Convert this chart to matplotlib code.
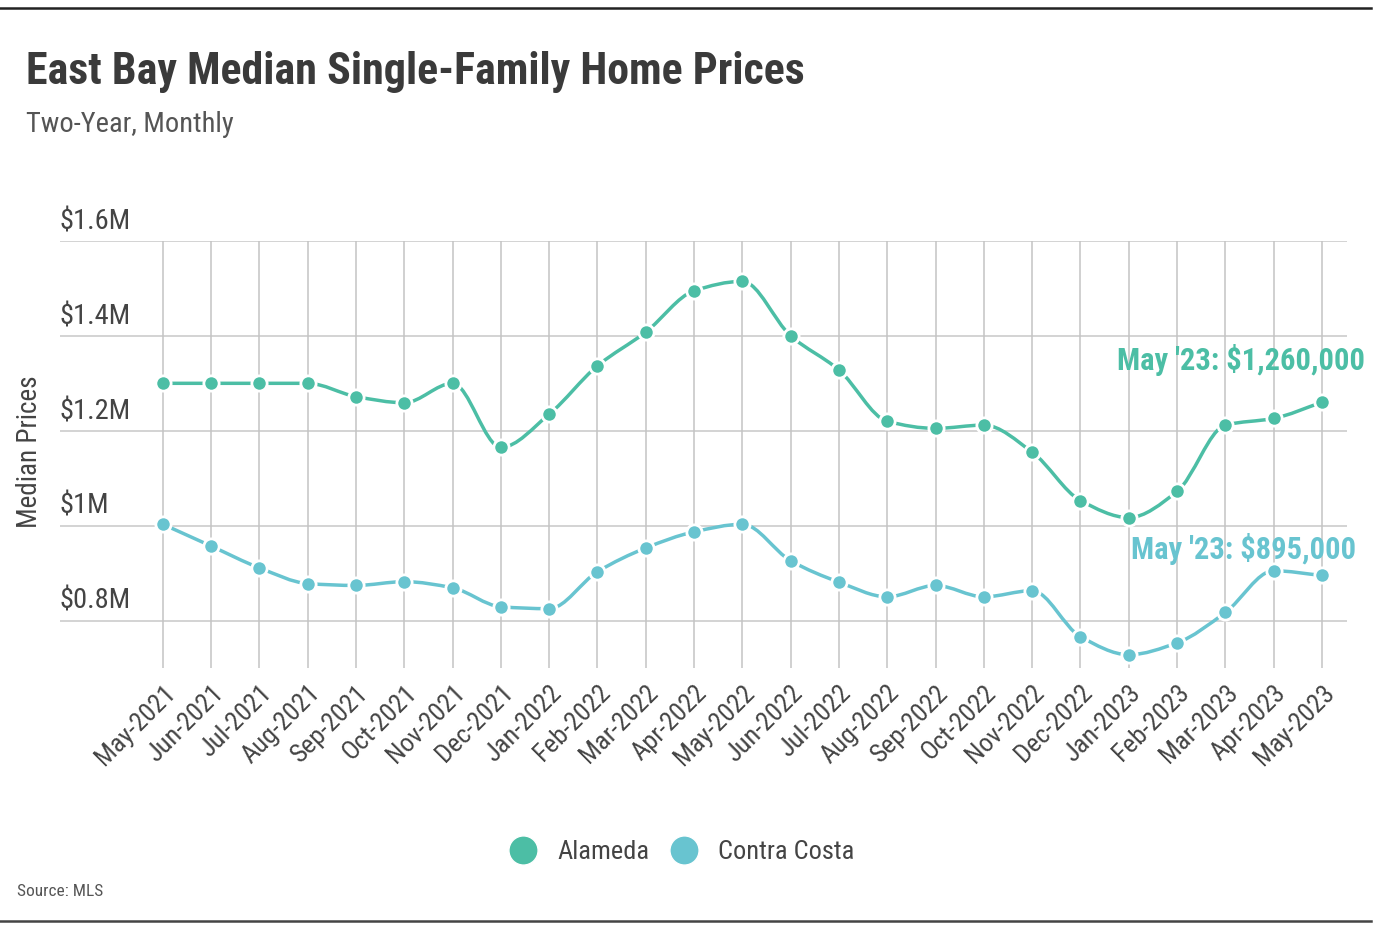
import numpy as np
import matplotlib
matplotlib.use("Agg")
import matplotlib.pyplot as plt
from matplotlib.path import Path
from matplotlib.patches import PathPatch
from matplotlib.lines import Line2D
from matplotlib import font_manager

months = ["May-2021", "Jun-2021", "Jul-2021", "Aug-2021", "Sep-2021", "Oct-2021",
          "Nov-2021", "Dec-2021", "Jan-2022", "Feb-2022", "Mar-2022", "Apr-2022",
          "May-2022", "Jun-2022", "Jul-2022", "Aug-2022", "Sep-2022", "Oct-2022",
          "Nov-2022", "Dec-2022", "Jan-2023", "Feb-2023", "Mar-2023", "Apr-2023",
          "May-2023"]

# median prices in $M
alameda = [1.30, 1.30, 1.30, 1.30, 1.272, 1.259, 1.30, 1.165, 1.235, 1.337, 1.408,
           1.495, 1.515, 1.40, 1.328, 1.22, 1.205, 1.212, 1.155, 1.053, 1.017, 1.072,
           1.212, 1.226, 1.26]
contra_costa = [1.003, 0.957, 0.911, 0.878, 0.874, 0.882, 0.869, 0.829, 0.825, 0.903,
                0.953, 0.987, 1.003, 0.926, 0.881, 0.85, 0.874, 0.85, 0.863, 0.766,
                0.728, 0.753, 0.817, 0.905, 0.895]

y_ticks = [0.8, 1.0, 1.2, 1.4, 1.6]
y_tick_labels = ["$0.8M", "$1M", "$1.2M", "$1.4M", "$1.6M"]

ALAMEDA_COLOR = "#4cbea5"
CONTRA_COLOR = "#68c4d0"
TEXT = "#444444"


def pick_font():
    names = {f.name for f in font_manager.fontManager.ttflist}
    for n in ["Roboto Condensed", "Open Sans Condensed", "DejaVu Sans Condensed",
              "Liberation Sans Narrow", "Lato"]:
        if n in names:
            return n
    return "DejaVu Sans"


plt.rcParams["font.family"] = [pick_font(), "DejaVu Sans"]


def monotone_path(xs, ys):
    # monotone cubic (Fritsch-Carlson) turned into bezier segments
    xs = np.asarray(xs, float)
    ys = np.asarray(ys, float)
    d = np.diff(ys) / np.diff(xs)
    m = np.zeros_like(ys)
    m[0], m[-1] = d[0], d[-1]
    for i in range(1, len(ys) - 1):
        if d[i - 1] * d[i] <= 0:
            m[i] = 0
        else:
            m[i] = 2 / (1 / d[i - 1] + 1 / d[i])
    verts = [(xs[0], ys[0])]
    codes = [Path.MOVETO]
    for i in range(len(xs) - 1):
        h = xs[i + 1] - xs[i]
        verts += [(xs[i] + h / 3, ys[i] + m[i] * h / 3),
                  (xs[i + 1] - h / 3, ys[i + 1] - m[i + 1] * h / 3),
                  (xs[i + 1], ys[i + 1])]
        codes += [Path.CURVE4] * 3
    return Path(verts, codes)


fig = plt.figure(figsize=(13.82, 9.34), dpi=100)
ax = fig.add_axes([0.0434, 0.2848, 0.9313, 0.4572])
x = np.arange(len(months))

ax.set_xlim(-2.13, 24.52)
ax.set_ylim(0.7, 1.6)
for s in ax.spines.values():
    s.set_visible(False)

for yv in y_ticks:
    ax.axhline(yv, color="#c8c8c8", lw=1.1, zorder=1)
for xv in x:
    ax.plot([xv, xv], [0.7, 1.6], color="#c4c4c4", lw=1.1, zorder=1)

for yv, lab in zip(y_ticks, y_tick_labels):
    ax.text(-2.13, yv + 0.012, lab, fontsize=20.5, color=TEXT, ha="left", va="bottom")

ax.set_yticks([])
ax.set_xticks(x)
ax.set_xticklabels(months, rotation=45, ha="right", va="top", rotation_mode="anchor",
                   fontsize=19, color=TEXT)
ax.tick_params(axis="x", length=0, pad=9)

for vals, col in [(alameda, ALAMEDA_COLOR), (contra_costa, CONTRA_COLOR)]:
    ax.add_patch(PathPatch(monotone_path(x, vals), fill=False, edgecolor=col, lw=2.5,
                           zorder=3, capstyle="round"))
    ax.plot(x, vals, ls="none", marker="o", ms=11, mfc=col, mec="white", mew=2, zorder=4)

ax.text(24.9, alameda[-1] + 0.09, "May '23: $1,260,000", color=ALAMEDA_COLOR,
        fontsize=22, fontweight="semibold", ha="right", va="center")
ax.text(24.7, contra_costa[-1] + 0.055, "May '23: $895,000", color=CONTRA_COLOR,
        fontsize=22, fontweight="semibold", ha="right", va="center")

fig.text(0.0217, 1 - 452 / 934, "Median Prices", rotation=90, fontsize=19.5, color=TEXT,
         ha="center", va="center")

fig.text(0.019, 1 - 72 / 934, "East Bay Median Single-Family Home Prices", fontsize=31.7,
         fontweight="bold", color="#3a3a3a", ha="left", va="center")
fig.text(0.019, 1 - 124 / 934, "Two-Year, Monthly", fontsize=20.5, color="#555555",
         ha="left", va="center")
fig.text(0.012, 1 - 891 / 934, "Source: MLS", fontsize=12.5, color="#555555",
         ha="left", va="center")

fig.add_artist(Line2D([0, 0.992], [1 - 8 / 934] * 2, color="#222222", lw=1.8))
fig.add_artist(Line2D([0, 0.992], [1 - 921 / 934] * 2, color="#444444", lw=1.8))

handles = [Line2D([], [], ls="none", marker="o", ms=21, mfc=ALAMEDA_COLOR, mec="white"),
           Line2D([], [], ls="none", marker="o", ms=21, mfc=CONTRA_COLOR, mec="white")]
leg = fig.legend(handles, ["Alameda", "Contra Costa"], loc="center",
                 bbox_to_anchor=(0.489, 1 - 852 / 934), ncol=2, frameon=False,
                 fontsize=19, handletextpad=0.3, columnspacing=0.3)
for t in leg.get_texts():
    t.set_color(TEXT)

fig.savefig("out.png", dpi=100, facecolor="white")
